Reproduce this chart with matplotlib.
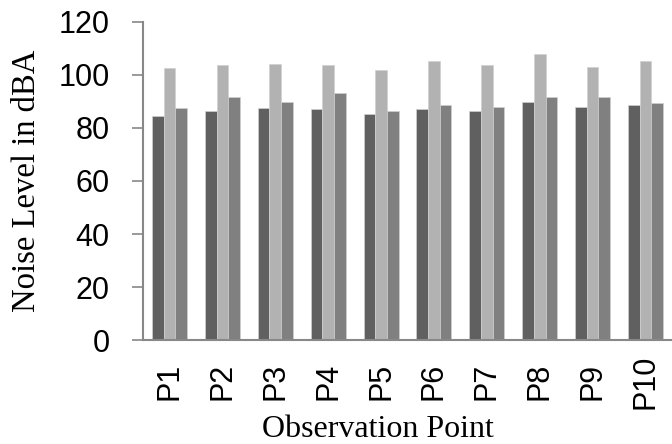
import numpy as np
import matplotlib
matplotlib.use("Agg")
import matplotlib.pyplot as plt

# values
points = ["P1", "P2", "P3", "P4", "P5", "P6", "P7", "P8", "P9", "P10"]
series_a = [84.6, 86.3, 87.5, 87.3, 85.3, 87.3, 86.3, 89.9, 87.9, 88.6]
series_b = [102.6, 103.9, 104.3, 103.9, 101.9, 105.2, 103.9, 107.8, 102.9, 105.2]
series_c = [87.5, 91.6, 89.8, 93.2, 86.3, 88.6, 87.8, 91.8, 91.8, 89.3]
yticks = [0, 20, 40, 60, 80, 100, 120]

colors = ["#606060", "#b2b2b2", "#808080"]

fig = plt.figure(figsize=(6.72, 4.44), dpi=100)
ax = fig.add_axes([0.2128, 0.2342, 0.7872, 0.7163])

x = np.arange(len(points))
w = 0.22
for i, (vals, c) in enumerate(zip([series_a, series_b, series_c], colors)):
    ax.bar(x + (i - 1) * w, vals, width=w, color=c, edgecolor="#d0d0d0", linewidth=0.5)

ax.set_xlim(-0.5, len(points) - 0.5)
ax.set_ylim(0, 120)
ax.set_yticks(yticks)
ax.set_xticks(x)
ax.set_xticklabels(points, rotation=90, va="center", family="Liberation Sans", fontsize=22)
ax.set_yticklabels([str(t) for t in yticks], family="Liberation Sans", fontsize=22)

ax.tick_params(axis="y", length=8, width=1.2, color="#888888", pad=16)
ax.tick_params(axis="x", length=0, pad=30)

for s in ["top", "right"]:
    ax.spines[s].set_visible(False)
for s in ["left", "bottom"]:
    ax.spines[s].set_color("#888888")
    ax.spines[s].set_linewidth(1.5)

ax.set_ylabel("Noise Level in dBA", family="Liberation Serif", fontsize=23.5, labelpad=12)
ax.set_xlabel("Observation Point", family="Liberation Serif", fontsize=23)
ax.xaxis.set_label_coords(0.444, -0.236)
ax.xaxis.label.set_va("top")

fig.savefig("out.png", dpi=100)
